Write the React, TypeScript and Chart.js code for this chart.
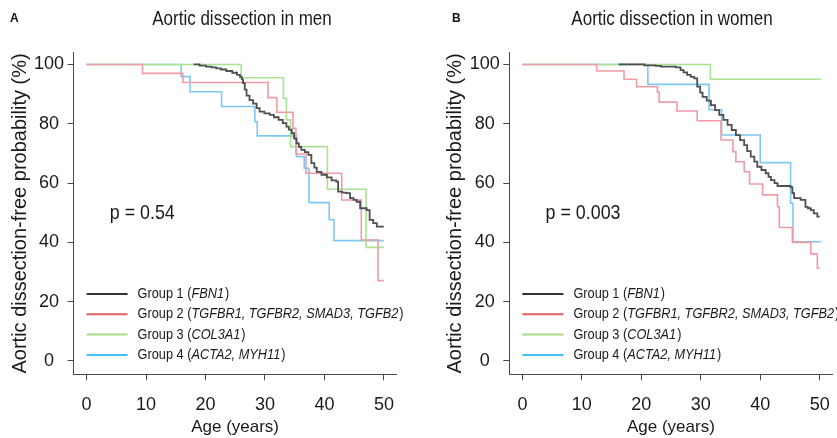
import React, { useEffect, useRef } from "react";
import { Chart, registerables } from "chart.js";

Chart.register(...registerables);

const FONT = "'Liberation Sans', Arial, Helvetica, sans-serif";
const W = 837;
const H = 438;

// ---------- tick labels ----------
const xTickValues = [0, 10, 20, 30, 40, 50];
const yTickValues = [0, 20, 40, 60, 80, 100];

// ---------- legend / text ----------
const groupPrefixes = ["Group 1 (", "Group 2 (", "Group 3 (", "Group 4 ("];
const groupGenes = ["FBN1", "TGFBR1, TGFBR2, SMAD3, TGFB2", "COL3A1", "ACTA2, MYH11"];
const lineColors = ["#4f4f4f", "#f29aa5", "#a9e290", "#7ec9f2"];
const legendColors = ["#333333", "#e0605f", "#a8dc82", "#40c1f0"];
const xAxisTitle = "Age (years)";
const yAxisTitle = "Aortic dissection-free probability (%)";
const menTitle = "Aortic dissection in men";
const womenTitle = "Aortic dissection in women";
const menPValue = "p = 0.54";
const womenPValue = "p = 0.003";

// ---------- Men (panel A) ----------
const menG1Age = [18.0, 19.0, 20.1, 21.0, 21.8, 22.6, 23.5, 24.5, 25.3, 25.8, 26.1, 26.3, 26.6, 26.9, 27.4, 28.0, 28.6, 29.1, 29.9, 30.8, 31.5, 32.3, 33.0, 33.6, 34.0, 34.5, 34.9, 35.3, 35.7, 36.1, 36.7, 37.3, 37.8, 38.3, 38.7, 39.5, 40.4, 41.2, 42.0, 42.3, 43.0, 43.7, 44.3, 44.9, 45.4, 46.0, 47.1, 47.6, 48.2, 48.8, 50.0];
const menG1Surv = [100, 99.6, 99.3, 99.0, 98.7, 98.3, 97.8, 97.2, 96.5, 95.8, 95.0, 93.7, 91.5, 89.5, 88.0, 86.8, 85.3, 84.1, 83.5, 83.0, 82.2, 81.3, 80.2, 79.0, 78.0, 76.8, 75.0, 73.4, 72.2, 71.2, 70.4, 69.5, 66.7, 65.2, 63.8, 62.8, 61.9, 60.9, 60.5, 57.1, 56.8, 56.6, 54.9, 54.3, 53.7, 51.5, 50.9, 47.6, 46.5, 45.3, 45.3];

const menG2Age = [0, 9.4, 16.2, 30.5, 32.0, 34.7, 35.2, 36.9, 42.9, 46.2, 49.0, 50.0];
const menG2Surv = [100, 97.0, 93.9, 88.8, 83.9, 78.5, 69.8, 63.3, 54.3, 40.8, 27.1, 27.1];

const menG3Age = [0, 26.0, 33.1, 33.6, 34.3, 40.5, 47.0, 50.0];
const menG3Surv = [100, 95.5, 88.6, 81.3, 72.3, 57.9, 38.3, 38.3];

const menG4Age = [0, 15.9, 17.4, 22.7, 28.3, 28.7, 35.3, 36.6, 37.4, 40.8, 41.6, 50.0];
const menG4Surv = [100, 95.9, 90.8, 85.8, 80.7, 75.9, 68.9, 65.0, 53.4, 47.6, 40.6, 40.6];

// ---------- Women (panel B) ----------
const womenG1Age = [16.2, 20.5, 22.4, 23.3, 25.8, 26.6, 27.1, 27.7, 28.3, 28.9, 29.4, 29.9, 30.3, 31.0, 31.7, 32.4, 33.1, 33.8, 34.5, 35.2, 35.9, 36.6, 37.3, 37.8, 38.4, 39.0, 39.5, 40.2, 40.9, 41.4, 41.8, 42.4, 42.9, 45.1, 45.4, 45.7, 46.8, 47.6, 48.0, 48.5, 49.0, 49.6, 50.0];
const womenG1Surv = [100, 99.7, 99.5, 99.3, 99.0, 98.1, 97.3, 96.5, 95.8, 95.3, 92.5, 90.5, 89.1, 87.8, 86.3, 84.6, 83.0, 81.3, 79.6, 77.9, 76.2, 74.5, 72.8, 70.8, 68.9, 67.2, 65.5, 64.4, 63.3, 62.1, 61.0, 60.0, 59.0, 58.6, 56.6, 54.9, 54.3, 52.0, 51.5, 50.9, 49.8, 48.7, 48.7];

const womenG2Age = [0, 12.5, 17.1, 19.2, 22.7, 23.0, 26.0, 29.4, 33.4, 35.4, 35.9, 37.3, 38.2, 40.4, 42.9, 43.2, 45.4, 48.5, 49.6, 50.0];
const womenG2Surv = [100, 97.8, 95.0, 92.5, 90.7, 87.3, 84.3, 81.0, 74.5, 70.6, 67.2, 63.8, 59.7, 56.0, 52.0, 45.0, 40.0, 36.1, 31.3, 31.3];

const womenG3Age = [0, 31.6, 50.2];
const womenG3Surv = [100, 95.0, 95.0];

const womenG4Age = [0, 21.1, 31.4, 33.5, 40.0, 45.1, 45.5, 50.2];
const womenG4Surv = [100, 93.3, 84.7, 76.2, 66.9, 53.2, 40.2, 40.2];

// ---------- helpers ----------
function toPoints(ages: number[], surv: number[]) {
  return ages.map((a, i) => ({ x: a, y: surv[i] }));
}

function drawSqueezed(ctx: CanvasRenderingContext2D, text: string, x: number, y: number, font: string, align: string, sx: number) {
  ctx.save();
  ctx.font = font;
  ctx.textAlign = "left";
  ctx.textBaseline = "middle";
  const w = ctx.measureText(text).width * sx;
  const x0 = align === "center" ? x - w / 2 : align === "right" ? x - w : x;
  ctx.translate(x0, y);
  ctx.scale(sx, 1);
  ctx.fillText(text, 0, 0);
  ctx.restore();
  return w;
}

const panelTextPlugin = {
  id: "panelText",
  afterDraw(chart: any, _args: any, opts: any) {
    const { ctx, chartArea, scales } = chart;
    const xs = scales.x;
    const ys = scales.y;
    ctx.save();
    ctx.fillStyle = "#111111";
    drawSqueezed(ctx, opts.letter, opts.letterX, 19, `bold 12px ${FONT}`, "left", 1);
    ctx.fillStyle = "#1a1a1a";
    drawSqueezed(ctx, opts.title, opts.titleX, 19, `20px ${FONT}`, "center", 0.85);
    drawSqueezed(ctx, opts.pValue, xs.getPixelForValue(opts.pAt[0]), ys.getPixelForValue(opts.pAt[1]), `21px ${FONT}`, "left", 0.85);
    const lx = xs.getPixelForValue(0);
    for (let i = 0; i < groupPrefixes.length; i++) {
      const y = chartArea.bottom - 80.3 + i * 20.3;
      ctx.strokeStyle = legendColors[i];
      ctx.lineWidth = 2;
      ctx.beginPath();
      ctx.moveTo(lx, y);
      ctx.lineTo(lx + 41, y);
      ctx.stroke();
      ctx.fillStyle = "#1a1a1a";
      let tx = lx + 51;
      tx += drawSqueezed(ctx, groupPrefixes[i], tx, y, `15px ${FONT}`, "left", 0.85);
      tx += drawSqueezed(ctx, groupGenes[i], tx, y, `italic 15px ${FONT}`, "left", 0.85);
      drawSqueezed(ctx, ")", tx + 1, y, `15px ${FONT}`, "left", 0.85);
    }
    ctx.restore();
  },
};

function makeConfig(series: [number[], number[]][], panel: any): any {
  const datasets = series.map((s, i) => ({
    label: groupPrefixes[i] + groupGenes[i] + ")",
    data: toPoints(s[0], s[1]),
    borderColor: lineColors[i],
    borderWidth: i === 0 ? 1.8 : 1.6,
    stepped: "before",
    pointRadius: 0,
    fill: false,
    tension: 0,
  }));
  const axisColor = "#4a4a4a";
  return {
    type: "line",
    data: { datasets },
    options: {
      animation: false,
      responsive: false,
      devicePixelRatio: 1,
      layout: { padding: { left: panel.padLeft, right: panel.padRight, top: 52.6, bottom: 0 } },
      plugins: {
        legend: { display: false },
        tooltip: { enabled: false },
        panelText: panel,
      },
      scales: {
        x: {
          type: "linear",
          min: -2.2,
          max: 52.15,
          afterBuildTicks: (s: any) => {
            s.ticks = xTickValues.map((v) => ({ value: v }));
          },
          afterFit: (s: any) => {
            s.height = 63.7;
            s.paddingLeft = 0;
            s.paddingRight = 0;
            s.paddingTop = 0;
            s.paddingBottom = 0;
          },
          grid: { drawOnChartArea: false, drawTicks: true, tickLength: 6, color: axisColor, lineWidth: 1 },
          border: { display: true, color: axisColor, width: 1 },
          ticks: { color: "#1a1a1a", font: { family: FONT, size: 18 }, padding: 14, maxRotation: 0, autoSkip: false },
          title: { display: true, text: xAxisTitle, color: "#1a1a1a", font: { family: FONT, size: 17 }, padding: { top: 0, bottom: 0 } },
        },
        y: {
          type: "linear",
          min: -4.5,
          max: 104,
          afterBuildTicks: (s: any) => {
            s.ticks = yTickValues.map((v) => ({ value: v }));
          },
          afterFit: (s: any) => {
            s.width = 73.5;
            s.paddingLeft = 0;
            s.paddingRight = 0;
            s.paddingTop = 0;
            s.paddingBottom = 0;
          },
          grid: { drawOnChartArea: false, drawTicks: true, tickLength: 6, color: axisColor, lineWidth: 1 },
          border: { display: true, color: axisColor, width: 1 },
          ticks: { color: "#1a1a1a", font: { family: FONT, size: 18 }, padding: 3.5, crossAlign: "center", autoSkip: false },
          title: { display: true, text: yAxisTitle, color: "#1a1a1a", font: { family: FONT, size: 20 }, padding: { top: 8, bottom: 0 } },
        },
      },
    },
    plugins: [panelTextPlugin],
  };
}

export default function App() {
  const menRef = useRef<HTMLCanvasElement>(null);
  const womenRef = useRef<HTMLCanvasElement>(null);

  useEffect(() => {
    const menChart = new Chart(
      menRef.current as HTMLCanvasElement,
      makeConfig(
        [
          [menG1Age, menG1Surv],
          [menG2Age, menG2Surv],
          [menG3Age, menG3Surv],
          [menG4Age, menG4Surv],
        ],
        { letter: "A", letterX: 10, title: menTitle, titleX: 242, pValue: menPValue, pAt: [3.9, 50], padLeft: 0, padRight: W - 396.7 }
      )
    );
    const womenChart = new Chart(
      womenRef.current as HTMLCanvasElement,
      makeConfig(
        [
          [womenG1Age, womenG1Surv],
          [womenG2Age, womenG2Surv],
          [womenG3Age, womenG3Surv],
          [womenG4Age, womenG4Surv],
        ],
        { letter: "B", letterX: 452, title: womenTitle, titleX: 672, pValue: womenPValue, pAt: [3.9, 50], padLeft: 435.8, padRight: W - 832.5 }
      )
    );
    return () => {
      menChart.destroy();
      womenChart.destroy();
    };
  }, []);

  const canvasStyle: React.CSSProperties = { position: "absolute", left: 0, top: 0, width: W, height: H };
  return (
    <div style={{ position: "fixed", left: 0, top: 0, width: W, height: H, background: "#ffffff", overflow: "hidden" }}>
      <canvas ref={menRef} width={W} height={H} style={canvasStyle} />
      <canvas ref={womenRef} width={W} height={H} style={canvasStyle} />
    </div>
  );
}
